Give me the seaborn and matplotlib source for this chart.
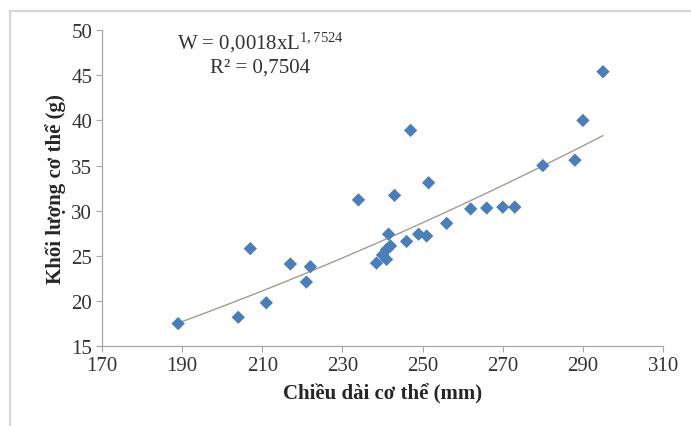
import matplotlib
matplotlib.use('Agg')
import matplotlib.pyplot as plt
import seaborn as sns
import pandas as pd
import numpy as np
from matplotlib.lines import Line2D

# Body length (mm) and body weight (g)
length_mm = [189, 204, 207, 211, 217, 221, 222, 234, 238.5, 240, 241, 242,
             241, 241.5, 243, 247, 246, 249, 251, 251.5, 256, 262, 266, 270,
             273, 280, 288, 290, 295]
weight_g = [17.5, 18.2, 25.8, 19.8, 24.1, 22.1, 23.8, 31.2, 24.2, 25.1, 25.7,
            26.1, 24.6, 27.4, 31.7, 38.9, 26.6, 27.4, 27.2, 33.1, 28.6, 30.2,
            30.3, 30.4, 30.4, 35.0, 35.6, 40.0, 45.4]

# power trendline coefficients shown on the chart
coef_a = 0.0018
coef_b = 1.7524

x_ticks = [170, 190, 210, 230, 250, 270, 290, 310]
y_ticks = [15, 20, 25, 30, 35, 40, 45, 50]

df = pd.DataFrame({"length": length_mm, "weight": weight_g})
trend_x = np.linspace(min(length_mm), max(length_mm), 100)
trend = pd.DataFrame({"length": trend_x, "weight": coef_a * trend_x ** coef_b})

sns.set_style("white")
plt.rcParams['font.family'] = ['Liberation Serif', 'DejaVu Serif']
plt.rcParams['mathtext.fontset'] = 'custom'
plt.rcParams['mathtext.rm'] = 'Liberation Serif'
plt.rcParams['mathtext.it'] = 'Liberation Serif:italic'

fig = plt.figure(figsize=(6.91, 4.27), dpi=100)
ax = fig.add_axes([0.1476, 0.187, 0.812, 0.740])

# light chart frame, only top and left edges show in the crop
fig.lines.append(Line2D([0.0145, 1.0], [0.972, 0.972], transform=fig.transFigure,
                        color='#d6d6d6', linewidth=1.6))
fig.lines.append(Line2D([0.0145, 0.0145], [0.0, 0.972], transform=fig.transFigure,
                        color='#d6d6d6', linewidth=1.6))

sns.lineplot(data=trend, x="length", y="weight", color='#a39c90', linewidth=1.0, ax=ax)
sns.scatterplot(data=df, x="length", y="weight", marker='D', s=46, color='#4a7ebb',
                edgecolor='none', ax=ax, zorder=3)

ax.set_xlim(170, 310)
ax.set_ylim(15, 50)
ax.set_xticks(x_ticks)
ax.set_yticks(y_ticks)
ax.tick_params(axis='both', direction='out', length=4, width=0.8, color='#a6a6a6',
               labelsize=15, labelcolor='#333333', bottom=True, left=True, pad=3)
for side in ['top', 'right']:
    ax.spines[side].set_visible(False)
for side in ['left', 'bottom']:
    ax.spines[side].set_color('#a6a6a6')
    ax.spines[side].set_linewidth(0.9)

ax.set_xlabel("Chiều dài cơ thể (mm)", fontsize=15, fontweight='bold', labelpad=6)
ax.set_ylabel("Khối lượng cơ thể (g)", fontsize=15, fontweight='bold', labelpad=4)

ax.text(0.282, 0.962, r"W = 0,0018xL$^{\mathrm{1,7524}}$", transform=ax.transAxes,
        ha='center', va='center', fontsize=15, color='#333333')
ax.text(0.282, 0.883, "R² = 0,7504", transform=ax.transAxes, ha='center',
        va='center', fontsize=15, color='#333333')

plt.savefig("out.png", dpi=100)
plt.close()
